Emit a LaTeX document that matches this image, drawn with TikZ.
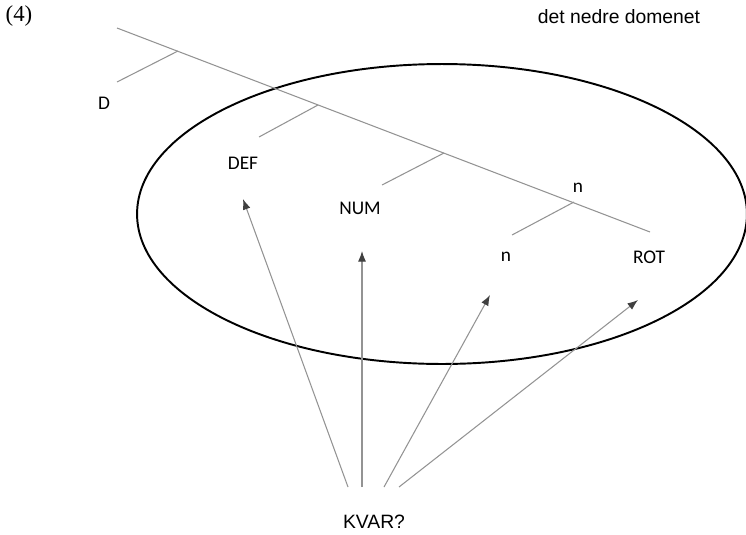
\documentclass[tikz,border=0pt]{standalone}
\usepackage{color}
\usepackage{fontspec}
\setmainfont{Liberation Serif}
\newfontfamily\calib{Carlito}
\newfontfamily\arialf{Liberation Sans}
\usepackage{tikz}
\usetikzlibrary{shapes.geometric, arrows.meta}

\tikzset{
  lbl/.style={font=\calib\fontsize{11}{13}\selectfont, inner sep=1pt},
  branch/.style={draw=gray!85, line width=0.6},
  pointer/.style={draw=gray!85, line width=0.6, -{Latex[length=6pt,width=4.5pt,color=black!75]}}
}

\begin{document}
\begin{tikzpicture}[x=0.02cm, y=-0.02cm]
\useasboundingbox (0,0) rectangle (746,534);
   \node[font=\fontsize{13}{15}\selectfont, inner sep=0pt](num)  at (19,16) {(4)};
   \node[font=\arialf\fontsize{11}{13}\selectfont, inner sep=0pt](domlbl)  at (619,17) {det nedre domenet};
       \node[draw, ellipse, line width=1.1, minimum width=12.2cm, minimum height=6cm, inner sep=0pt](domain)  at (442,214) {};
   % tree
      \coordinate (top)  at (117,28);
      \coordinate (bot)  at (650,232);
      \coordinate (bD)  at (178,51);
      \coordinate (bDEF)  at (318,105);
      \coordinate (bNUM)  at (444,153);
      \coordinate (bn)  at (574,202);
      \coordinate (eD)  at (117,82);
      \coordinate (eDEF)  at (259,137);
      \coordinate (eNUM)  at (382,185);
      \coordinate (en)  at (512,235);
   \draw[branch] (top) -- (bot);
   \draw[branch] (bD) -- (eD);
   \draw[branch] (bDEF) -- (eDEF);
   \draw[branch] (bNUM) -- (eNUM);
   \draw[branch] (bn) -- (en);
   \node[lbl](d)  at (104,103) {D};
   \node[lbl](def)  at (243,163) {DEF};
   \node[lbl](numb)  at (360,208) {NUM};
   \node[lbl](nup)  at (578,188) {n};
   \node[lbl](nlow)  at (506,257) {n};
   \node[lbl](rot)  at (649,257) {ROT};
   % question
   \node[font=\arialf\fontsize{11}{13}\selectfont, inner sep=0pt](kvar)  at (374,522) {KVAR?};
      \coordinate (k1)  at (348,487);
      \coordinate (k2)  at (362,487);
      \coordinate (k3)  at (384,487);
      \coordinate (k4)  at (399,487);
      \coordinate (t1)  at (243,199);
      \coordinate (t2)  at (362,251);
      \coordinate (t3)  at (490,295);
      \coordinate (t4)  at (638,300);
   \draw[pointer] (k1) -- (t1);
   \draw[pointer] (k2) -- (t2);
   \draw[pointer] (k3) -- (t3);
   \draw[pointer] (k4) -- (t4);
\end{tikzpicture}
\end{document}
